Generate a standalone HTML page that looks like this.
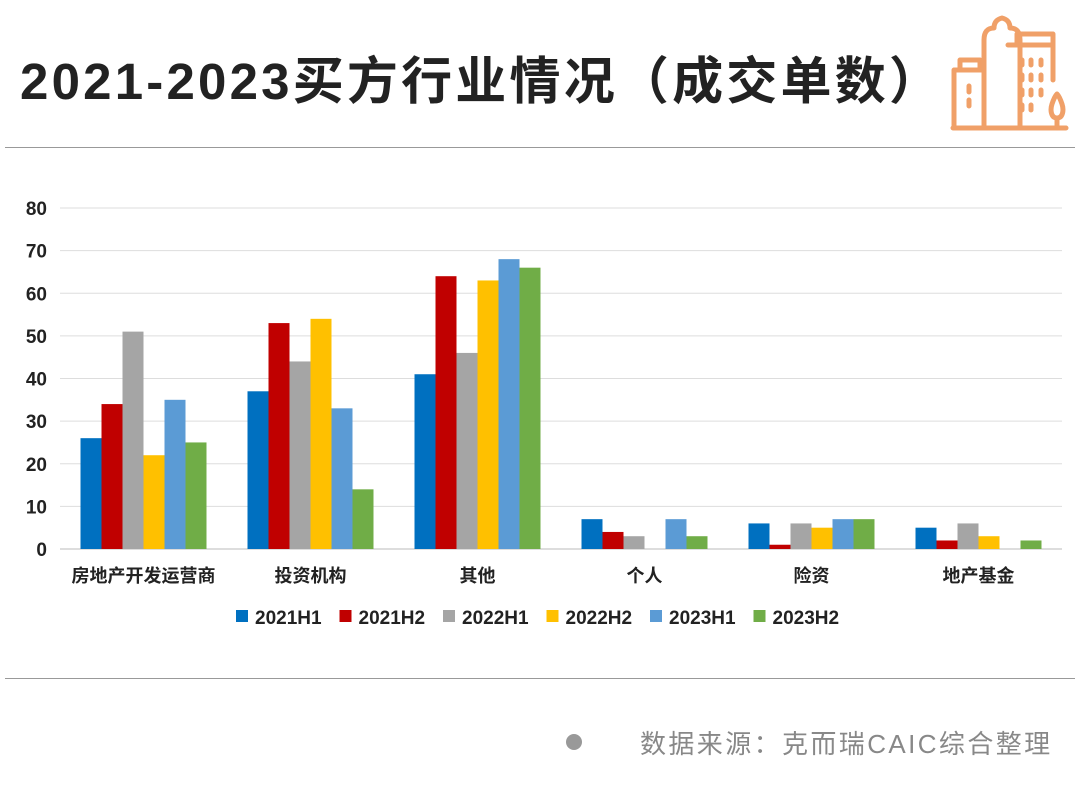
<!DOCTYPE html>
<html><head><meta charset="utf-8">
<style>
body{margin:0;width:1080px;height:806px;background:#fff;overflow:hidden;font-family:"Liberation Sans","Noto Sans CJK SC",sans-serif;position:relative}
.title{position:absolute;left:20px;top:40px;font-size:51px;font-weight:bold;color:#222;letter-spacing:3.2px}
.hr{position:absolute;left:5px;width:1070px;height:1px;background:#999}
.src{position:absolute;left:640px;top:724px;font-size:26px;color:#888;letter-spacing:2.4px}
.dot{position:absolute;left:566px;top:734px;width:16px;height:16px;border-radius:50%;background:#999}
</style></head><body>
<div class="title">2021-2023买方行业情况（成交单数）</div>
<svg style="position:absolute;left:940px;top:10px" width="135" height="130" viewBox="0 0 135 130" fill="none" stroke="#F0A068" stroke-width="5" stroke-linecap="round" stroke-linejoin="round">
<path d="M14 118V60h30V118M20 60V50h20v10M44 118V30q0-12 10-12q0-8 8-10q8 2 8 10q10 0 10 12V118M68 35h45v35M77 35V24h36v11M13 118h113"/>
<path d="M29 76v6M29 90v6M82 50v5M91 50v5M101 50v5M82 65v5M91 65v5M101 65v5M82 80v5M91 80v5M101 80v5M82 95v5M91 95v5"/>
<path d="M117 108V118M117 108c-6 0-7-8-5-14c2-6 3-8 5-10c2 2 3 4 5 10c2 6 1 14-5 14z"/>
</svg>
<div class="hr" style="top:147px"></div>
<svg id="chart" style="position:absolute;left:0;top:180px" width="1080" height="470"></svg>
<div class="hr" style="top:678px"></div>
<div class="dot"></div>
<div class="src">数据来源：克而瑞CAIC综合整理</div>
<script>
const categories=["房地产开发运营商","投资机构","其他","个人","险资","地产基金"];
const seriesNames=["2021H1","2021H2","2022H1","2022H2","2023H1","2023H2"];
const s2021H1=[26,37,41,7,6,5];
const s2021H2=[34,53,64,4,1,2];
const s2022H1=[51,44,46,3,6,6];
const s2022H2=[22,54,63,0,5,3];
const s2023H1=[35,33,68,7,7,0];
const s2023H2=[25,14,66,3,7,2];
const yTicks=[0,10,20,30,40,50,60,70,80];
const series=[s2021H1,s2021H2,s2022H1,s2022H2,s2023H1,s2023H2];
const colors=["#0070C0","#C00000","#A5A5A5","#FFC000","#5B9BD5","#70AD47"];
const svg=document.getElementById('chart');const NS="http://www.w3.org/2000/svg";
const x0=60,x1=1062,yBase=369,yTop=28,yMax=80;
const y=v=>yBase-(yBase-yTop)*v/yMax;
const cw=(x1-x0)/categories.length,bw=21;
function mk(t,a){const e=document.createElementNS(NS,t);for(const k in a)e.setAttribute(k,a[k]);svg.appendChild(e);return e;}
yTicks.forEach(t=>{
 const l=mk('line',{x1:x0,x2:x1,y1:y(t),y2:y(t),stroke:t===0?'#bbb':'#ddd','stroke-width':1});
 
 
 const tx=mk('text',{x:47,y:y(t)+7,'text-anchor':'end','font-size':19,'font-weight':'bold',fill:'#222'});tx.textContent=t;
 
 
});
categories.forEach((c,i)=>{
 const gx=x0+cw*i+(cw-bw*6)/2;
 series.forEach((s,j)=>{
  const v=s[i];
  const r=mk('rect',{x:gx+j*bw,y:y(v),width:bw,height:yBase-y(v),fill:colors[j]});
  
  
 });
 const t=mk('text',{x:x0+cw*(i+0.5),y:402,'text-anchor':'middle','font-size':18,'font-weight':'bold',fill:'#222'});t.textContent=c;
 
 
});
let lx=236;
seriesNames.forEach((n,j)=>{
 const r=mk('rect',{x:lx,y:430,width:12,height:12,fill:colors[j]});
 
 
 const t=mk('text',{x:lx+19,y:444,'font-size':19,'font-weight':'bold',fill:'#222'});t.textContent=n;
 
 
 lx+=103.5;
});
</script>
</body></html>
